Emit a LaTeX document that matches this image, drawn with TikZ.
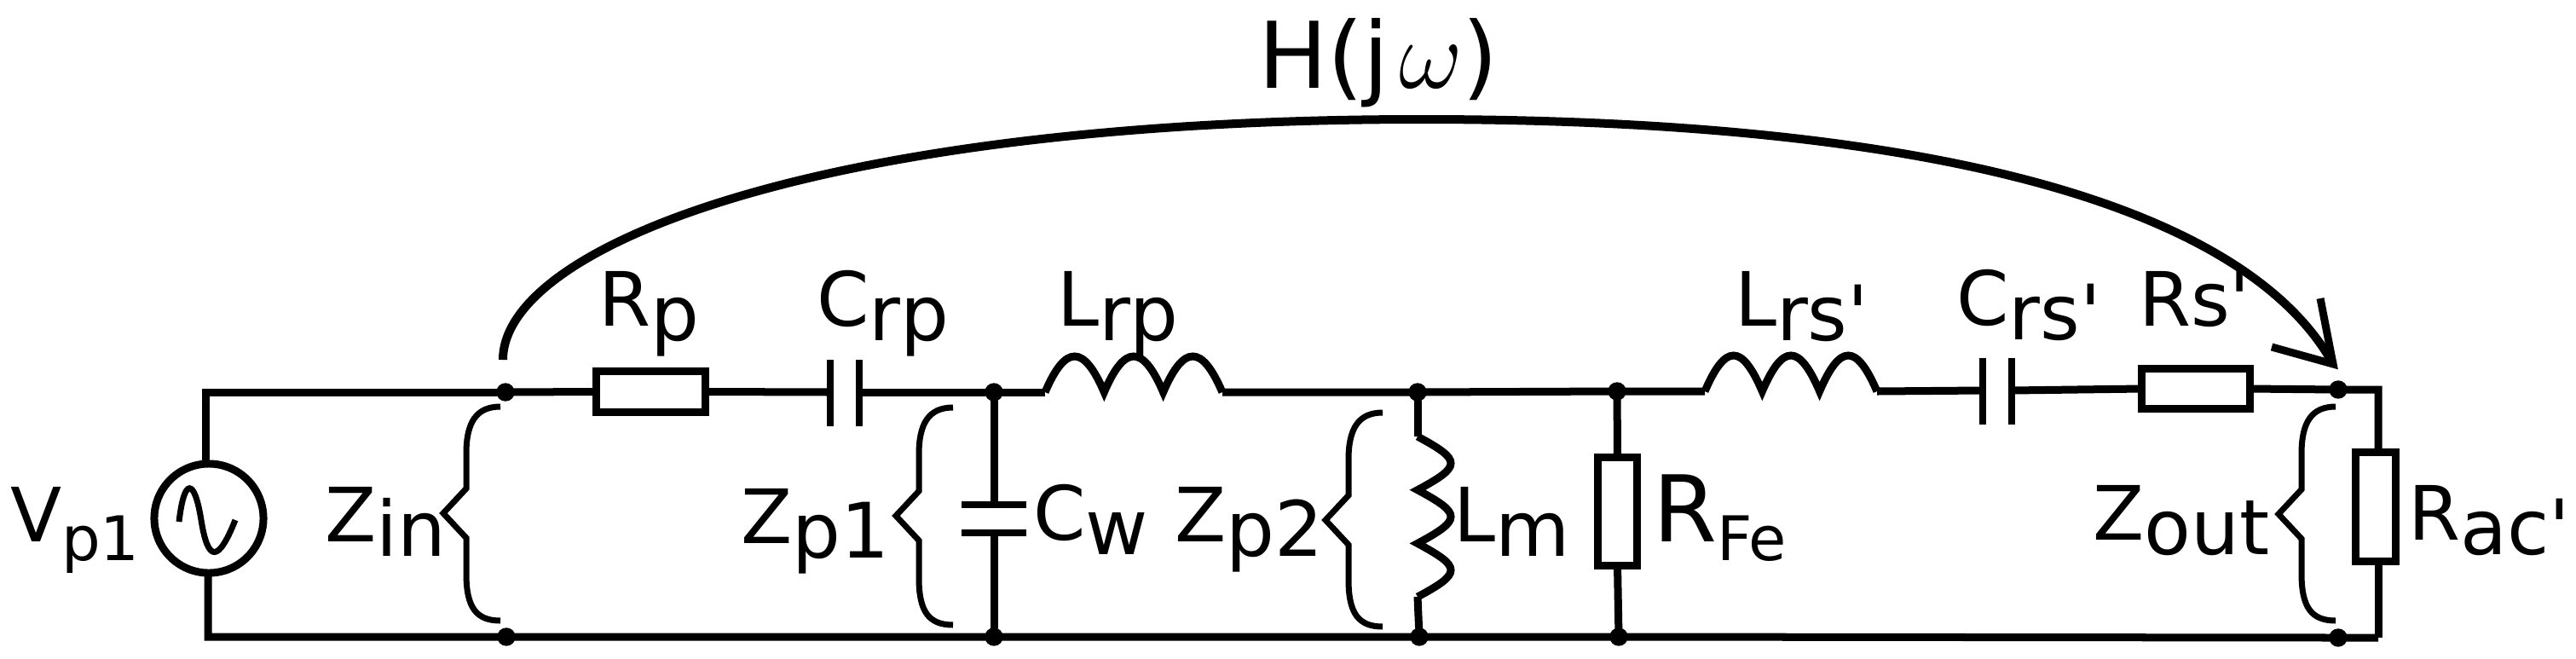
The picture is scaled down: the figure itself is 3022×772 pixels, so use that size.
\documentclass[tikz,border=0pt]{standalone}
\usepackage{fontspec}
\setmainfont[Ligatures=TeXOff]{DejaVu Sans}
\newcommand{\lowtxt}[1]{\raisebox{-0.17cm}{\fontsize{25.5}{28}\selectfont #1}}
\newcommand{\smalltxt}[1]{\raisebox{-0.22cm}{\fontsize{20.5}{24}\selectfont #1}}
\tikzset{
	wire/.style={line width=0.09cm,line join=miter},
	plate/.style={line width=0.075cm},
	brace/.style={line width=0.07cm},
	dot/.style={draw,circle,fill=black,inner sep=0,outer sep=0,minimum size=0.2cm},
	resbox/.style={draw,line width=0.09cm,inner sep=0,outer sep=0},
	lbl/.style={anchor=base west,inner sep=0,outer sep=0,font=\fontsize{25}{28}\selectfont},
}
\begin{document}
\begin{tikzpicture}[x=0.01cm,y=-0.01cm]
	\useasboundingbox (0,0) rectangle (3022,772);
	% junctions
	\node[dot] (na) at (593,460) {};
	\node[dot] (nb) at (594,747) {};
	\node[dot] (nc) at (1166,460) {};
	\node[dot] (nd) at (1166,747) {};
	\node[dot] (ne) at (1663,460) {};
	\node[dot] (nf) at (1665,747) {};
	\node[dot] (ng) at (1897,459) {};
	\node[dot] (nh) at (1899,747) {};
	\node[dot] (ni) at (2743,457) {};
	\node[dot] (nj) at (2743,748) {};
	\coordinate (tl) at (241,460);
	\coordinate (bl) at (244,747);
	\coordinate (tr) at (2790,457);
	\coordinate (br) at (2790,748);
	% source
	\node[draw,circle,line width=0.09cm,inner sep=0,outer sep=0,minimum size=1.28cm] (vsrc) at (245,608) {};
	\draw[line width=0.07cm] (210,612) .. controls (216,560) and (228,560) .. (236,610) .. controls (244,660) and (256,660) .. (276,610);
	\draw[wire] (vsrc.north -| tl) -- (tl) -- (na);
	\draw[wire] (vsrc.south -| bl) -- (bl) -- (nb) -- (nd) -- (nf) -- (nh) -- (nj) -- (br);
	% series branch
	\node[resbox,minimum width=1.28cm,minimum height=0.48cm] (rp) at (763.5,459.5) {};
	\node[resbox,minimum width=1.27cm,minimum height=0.47cm] (rs) at (2576,456) {};
	\node[resbox,minimum width=0.46cm,minimum height=1.27cm] (rfe) at (1897.5,600) {};
	\node[resbox,minimum width=0.47cm,minimum height=1.28cm] (rac) at (2787,594.5) {};
	\coordinate (crpa) at (974,460);
	\coordinate (crpb) at (1008,460);
	\coordinate (crsa) at (2326,458);
	\coordinate (crsb) at (2360,458);
	\coordinate (cwa) at (1166,592);
	\coordinate (cwb) at (1166,625);
	\coordinate (lrpa) at (1226,460);
	\coordinate (lrpb) at (1434,460);
	\coordinate (lrsa) at (2000,459);
	\coordinate (lrsb) at (2202,459);
	\coordinate (lma) at (1663,512);
	\coordinate (lmb) at (1663,700);
	\draw[wire] (na) -- (rp.west);
	\draw[wire] (rp.east) -- (crpa);
	\draw[wire] (crpb) -- (nc) -- (lrpa);
	\draw[wire] (lrpb) -- (ne) -- (ng) -- (lrsa);
	\draw[wire] (lrsb) -- (crsa);
	\draw[wire] (crsb) -- (rs.west);
	\draw[wire] (rs.east) -- (ni) -- (tr) -- (rac.north -| tr);
	\draw[wire] (rac.south -| br) -- (br);
	\draw[plate] (crpa) ++(0,-38) -- ++(0,78);
	\draw[plate] (crpb) ++(0,-38) -- ++(0,78);
	\draw[plate] (crsa) ++(0,-38) -- ++(0,78);
	\draw[plate] (crsb) ++(0,-38) -- ++(0,78);
	\draw[wire] (lrpa) foreach \k in {1,2,3} { .. controls +(24,-56) and +(-24,-56) .. ++(69.3,0) };
	\draw[wire] (lrsa) foreach \k in {1,2,3} { .. controls +(24,-56) and +(-24,-56) .. ++(67.3,0) };
	% shunt branches
	\draw[wire] (nc) -- (cwa);
	\draw[wire] (cwb) -- (nd);
	\draw[plate] (cwa) ++(-38,0) -- ++(76,0);
	\draw[plate] (cwb) ++(-38,0) -- ++(76,0);
	\draw[wire] (ne) -- (lma);
	\draw[wire] (lma) foreach \k in {1,2,3} { .. controls +(52,28) and +(52,-28) .. ++(0,62.7) };
	\draw[wire] (lmb) -- (nf);
	\draw[wire] (ng) -- (rfe.north);
	\draw[wire] (rfe.south) -- (nh);
	% braces
	\foreach \bx/\btop/\bmid/\bbot in {587/477/602/728,1118/478/605/733,1622/484/610/735,2740/477/603/728}
		\draw[brace] (\bx,\btop) .. controls ({\bx-28},\btop) and ({\bx-40},{\btop+18}) .. ({\bx-40},{\btop+55}) -- ({\bx-40},{\bmid-29}) -- ({\bx-67},\bmid) -- ({\bx-40},{\bmid+29}) -- ({\bx-40},{\bbot-55}) .. controls ({\bx-40},{\bbot-15}) and ({\bx-28},\bbot) .. (\bx,\bbot);
	% transfer arrow
	\coordinate (ha) at (590,422);
	\coordinate (hb) at (2737,427);
	\coordinate (hc) at (2722,350);
	\coordinate (hd) at (2665,407);
	\draw[line width=0.1cm] (ha) .. controls (590,290) and (960,140) .. (1667,140) .. controls (2300,140) and (2640,252) .. (hb);
	\draw[wire] (hc) -- (hb) -- (hd);
	% labels
	\node[lbl,font=\fontsize{30.7}{34}\selectfont] (hlabel) at (1476,103) {H(j\hspace{0.12cm}\scalebox{1.32}{$\omega$})};
	\node[lbl] (vlabel) at (12,635) {V\smalltxt{p1}};
	\node[lbl] (zin) at (381,635) {Z\lowtxt{in}};
	\node[lbl] (zpa) at (869,637) {Z\lowtxt{p1}};
	\node[lbl] (zpb) at (1378,635) {Z\lowtxt{p2}};
	\node[lbl] (zout) at (2455,633) {Z\lowtxt{out}};
	\node[lbl] (rplabel) at (702,382) {R\lowtxt{p}};
	\node[lbl] (crplabel) at (958,382) {C\lowtxt{rp}};
	\node[lbl] (lrplabel) at (1240,382) {L\lowtxt{rp}};
	\node[lbl] (lrslabel) at (2035,382) {L\lowtxt{rs'}};
	\node[lbl] (crslabel) at (2295,381) {C\lowtxt{rs'}};
	\node[lbl] (rslabel) at (2509,382) {Rs'};
	\node[lbl] (cwlabel) at (1212,633) {C\lowtxt{w}};
	\node[lbl] (lmlabel) at (1705,635) {L\lowtxt{m}};
	\node[lbl,font=\fontsize{30.7}{34}\selectfont] (rfelabel) at (1939,635) {R\smalltxt{Fe}};
	\node[lbl] (raclabel) at (2825,633) {R\lowtxt{ac'}};
\end{tikzpicture}
\end{document}
